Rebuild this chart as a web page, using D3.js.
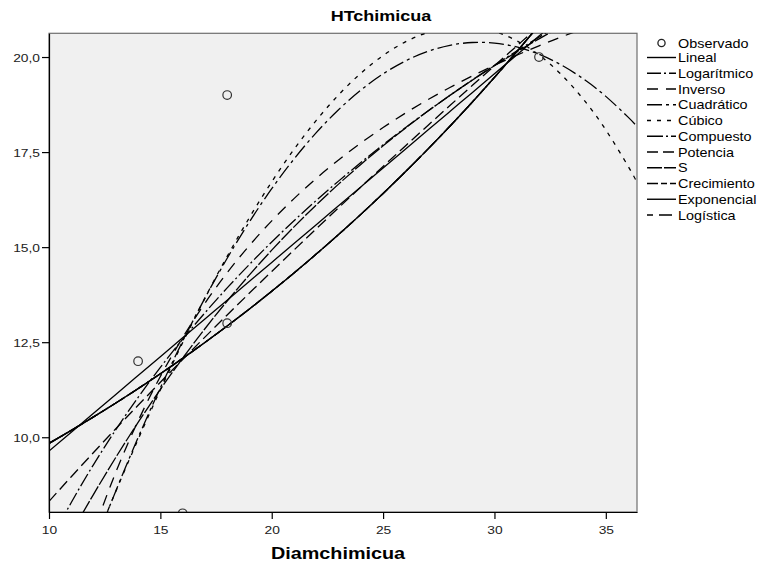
<!DOCTYPE html>
<html><head><meta charset="utf-8">
<script src="https://cdn.jsdelivr.net/npm/d3@7"></script>
<style>html,body{margin:0;padding:0;background:#fff;} svg{display:block;font-family:"Liberation Sans",Arial,sans-serif;}</style>
</head><body><svg id="c" width="757" height="567"></svg>
<script>
// ---- data ----
const title = "HTchimicua";
const xTitle = "Diamchimicua";
const xTicks = [10, 15, 20, 25, 30, 35];
const yTicks = [10, 12.5, 15, 17.5, 20];
const obsX = [14, 16, 18, 18, 32];
const obsY = [12, 8, 13, 19, 20];
const xGrid = [10,11,12,13,14,15,16,17,18,19,20,21,22,23,24,25,26,27,28,29,30,31,32,33,34,35,36,36.4];
const lineal = [9.638,10.134,10.630,11.126,11.622,12.118,12.614,13.110,13.606,14.102,14.598,15.094,15.591,16.087,16.583,17.079,17.575,18.071,18.567,19.063,19.559,20.055,20.551,21.047,21.543,22.039,22.535,22.734];
const logaritmico = [7.191,8.284,9.281,10.198,11.047,11.838,12.578,13.272,13.927,14.547,15.135,15.694,16.227,16.736,17.224,17.692,18.142,18.574,18.991,19.393,19.781,20.157,20.521,20.874,21.216,21.548,21.871,21.998];
const inverso = [3.414,5.646,7.506,9.080,10.430,11.599,12.622,13.525,14.327,15.045,15.691,16.276,16.807,17.293,17.737,18.146,18.524,18.874,19.199,19.501,19.783,20.047,20.295,20.528,20.746,20.953,21.148,21.223];
const cuadratico = [3.855,5.521,7.099,8.588,9.989,11.301,12.525,13.660,14.707,15.666,16.536,17.317,18.010,18.614,19.130,19.557,19.896,20.147,20.309,20.382,20.367,20.264,20.072,19.791,19.422,18.965,18.419,18.175];
const cubico = [4.165,5.685,7.157,8.578,9.943,11.248,12.488,13.659,14.758,15.779,16.718,17.571,18.334,19.003,19.572,20.039,20.398,20.645,20.776,20.786,20.672,20.429,20.053,19.539,18.884,18.082,17.129,16.705];
const compuesto = [9.840,10.181,10.535,10.900,11.278,11.670,12.075,12.493,12.927,13.375,13.840,14.320,14.817,15.331,15.862,16.413,16.982,17.571,18.181,18.812,19.465,20.140,20.839,21.562,22.310,23.084,23.885,24.208];
const potencia = [8.314,8.962,9.599,10.225,10.840,11.446,12.044,12.633,13.216,13.792,14.361,14.924,15.481,16.034,16.581,17.123,17.661,18.195,18.724,19.249,19.771,20.289,20.803,21.314,21.822,22.326,22.828,23.027];
const sCurve = [6.412,7.477,8.499,9.471,10.389,11.259,12.080,12.854,13.584,14.271,14.920,15.532,16.110,16.657,17.175,17.665,18.130,18.572,18.991,19.390,19.770,20.133,20.478,20.808,21.124,21.426,21.715,21.827];
const crecimiento = compuesto.slice();
const exponencial = compuesto.slice();
const logistica = compuesto.slice();
const seriesNames = ["Lineal","Logarítmico","Inverso","Cuadrático","Cúbico","Compuesto","Potencia","S","Crecimiento","Exponencial","Logística"];
const seriesValues = [lineal, logaritmico, inverso, cuadratico, cubico, compuesto, potencia, sCurve, crecimiento, exponencial, logistica];
const seriesDash = [null, "14,3,2,3", "11,8", "15,4,3,4", "4,6", "16,3,2,3", "11,5", "15,2", "11,3,6,3", null, "6,6,13,6"];

// ---- layout ----
const svg = d3.select("#c");
const L = 49, R = 637, T = 33.3, B = 512;
const x = d3.scaleLinear().domain([10, 36.4]).range([L, R]);
const y = d3.scaleLinear().domain([8.034, 20.624]).range([B, T]);
const SX = 1.2;

svg.append("defs").append("clipPath").attr("id","clip")
  .append("rect").attr("x",L).attr("y",T).attr("width",R-L).attr("height",B-T);

svg.append("rect").attr("x",L).attr("y",T).attr("width",R-L).attr("height",B-T)
  .attr("fill","#f0f0f0").attr("stroke","#6e6e6e").attr("stroke-width",1.2);

// titles
svg.append("text").attr("transform",`translate(381,21) scale(${SX},1)`)
  .attr("text-anchor","middle").attr("font-size",15).attr("font-weight","bold").attr("fill","#000").text(title);
svg.append("text").attr("transform",`translate(338,559) scale(${SX},1)`)
  .attr("text-anchor","middle").attr("font-size",16.5).attr("font-weight","bold").attr("fill","#000").text(xTitle);

// axes
const fmt = d => d3.format(".1f")(d).replace(".", ",");
const gy = svg.append("g").attr("transform",`translate(${L},0)`)
  .call(d3.axisLeft(y).tickValues(yTicks).tickFormat(fmt).tickSize(7).tickSizeOuter(0));
gy.select(".domain").attr("stroke","#000").attr("stroke-width",1.2);
gy.selectAll(".tick line").attr("stroke","#000").attr("stroke-width",1.2);
gy.selectAll(".tick text").attr("font-size",11.5).attr("fill","#222").attr("font-family","Liberation Sans, Arial, sans-serif")
  .attr("x",null).attr("dy",null)
  .each(function(){ d3.select(this).attr("transform",`translate(-9,4) scale(${SX},1)`); });

const gx = svg.append("g").attr("transform",`translate(0,${B})`)
  .call(d3.axisBottom(x).tickValues(xTicks).tickFormat(d3.format("d")).tickSize(7).tickSizeOuter(0));
gx.select(".domain").attr("stroke","#000").attr("stroke-width",1.2);
gx.selectAll(".tick line").attr("stroke","#000").attr("stroke-width",1.2);
gx.selectAll(".tick text").attr("font-size",11.5).attr("fill","#222").attr("font-family","Liberation Sans, Arial, sans-serif")
  .attr("y",null).attr("dy",null)
  .each(function(){ d3.select(this).attr("transform",`translate(0,22) scale(${SX},1)`); });

// curves
const plot = svg.append("g").attr("clip-path","url(#clip)");
const line = d3.line().x((d,i)=>x(xGrid[i])).y(d=>y(d)).curve(d3.curveNatural);
seriesValues.forEach((vals,k)=>{
  plot.append("path").datum(vals).attr("d",line).attr("fill","none")
    .attr("stroke","#000").attr("stroke-width",1.3)
    .attr("stroke-dasharray",seriesDash[k]);
});
plot.selectAll("circle.obs").data(obsX).enter().append("circle").attr("class","obs")
  .attr("cx",(d)=>x(d)).attr("cy",(d,i)=>y(obsY[i])).attr("r",4.3)
  .attr("fill","none").attr("stroke","#333").attr("stroke-width",1.2);

// legend
const lg = svg.append("g");
lg.append("circle").attr("cx",661.5).attr("cy",43).attr("r",3.6).attr("fill","none").attr("stroke","#222").attr("stroke-width",1.3);
lg.append("text").attr("transform",`translate(678,47.5) scale(${SX},1)`).attr("font-size",12).attr("fill","#000").text("Observado");
seriesNames.forEach((n,k)=>{
  const cy = 57.5 + 15.75*k;
  lg.append("line").attr("x1",647).attr("x2",676).attr("y1",cy).attr("y2",cy)
    .attr("stroke","#000").attr("stroke-width",1.4).attr("stroke-dasharray",seriesDash[k]);
  lg.append("text").attr("transform",`translate(678,${cy+4.5}) scale(${SX},1)`).attr("font-size",12).attr("fill","#000").text(n);
});
</script></body></html>
